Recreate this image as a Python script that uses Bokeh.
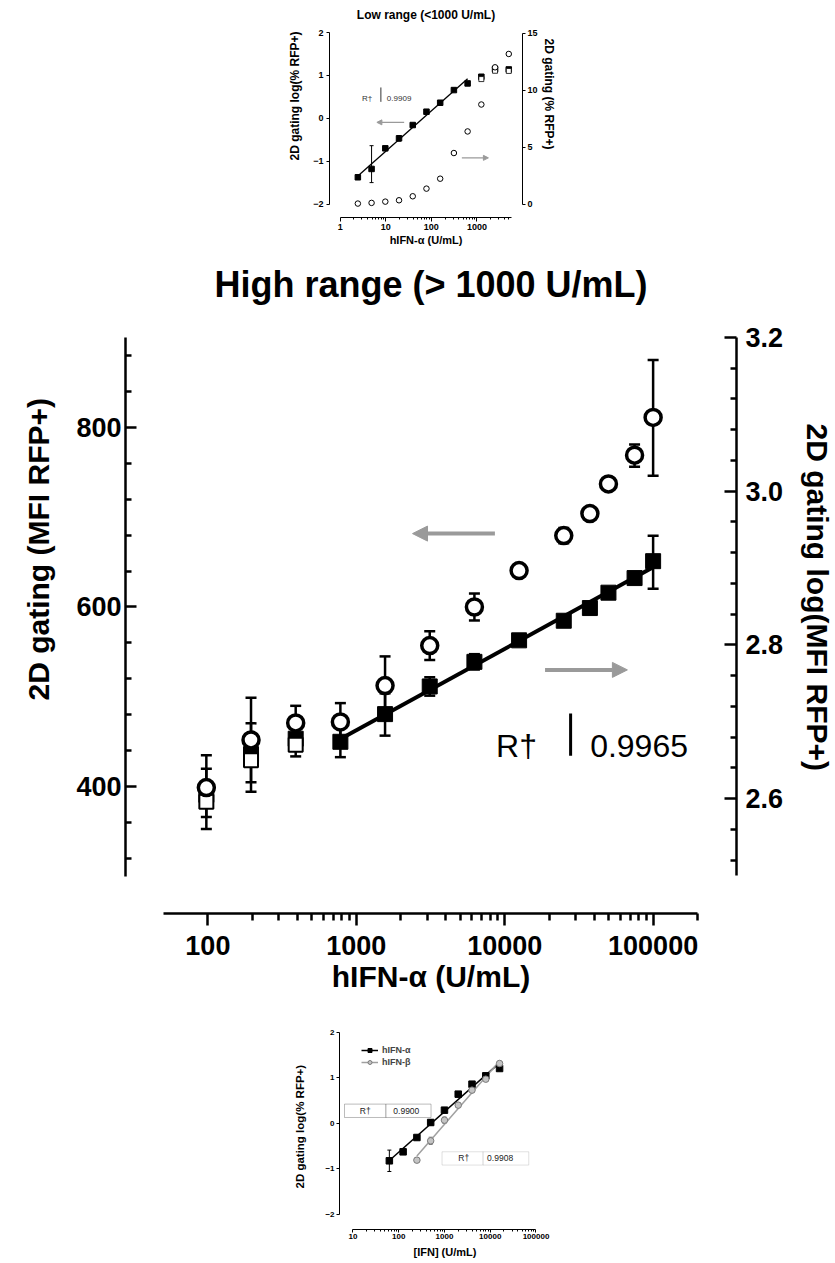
import numpy as np
from bokeh.plotting import figure
from bokeh.models import (Range1d, LinearAxis, FixedTicker, Whisker, ColumnDataSource,
                          Arrow, NormalHead, Label, BoxAnnotation, Legend, LegendItem,
                          TeeHead, BasicTickFormatter, PrintfTickFormatter, Title)
from bokeh.embed import file_html
from bokeh.resources import INLINE

FONT = "Liberation Sans"
GREY = "#9a9a9a"

# ---------------- data: low range panel (top) ----------------
low_conc = [2.44, 4.88, 9.77, 19.53, 39.06, 78.13, 156.25, 312.5, 625, 1250, 2500, 5000]
low_logpct = [-1.372, -1.178, -0.698, -0.465, -0.155, 0.155, 0.364, 0.659, 0.814, 0.969, 1.147, 1.140]
low_logpct_lo = [-1.41, -1.496, -0.73, -0.53, -0.18, 0.13, 0.34, 0.64, 0.79, 0.95, 1.13, 1.12]
low_logpct_hi = [-1.34, -0.636, -0.67, -0.40, -0.13, 0.18, 0.39, 0.68, 0.84, 0.99, 1.17, 1.16]
low_open_conc = [1250, 2500, 5000]
low_open_logpct = [0.915, 1.109, 1.105]
low_pct = [0.06, 0.12, 0.23, 0.35, 0.70, 1.37, 2.24, 4.49, 6.38, 8.74, 12.00, 13.17]
low_fit_n = 9
low_r2 = "0.9909"

# ---------------- data: high range panel (main) ----------------
hi_conc = [97.66, 195.3, 390.6, 781.25, 1562.5, 3125, 6250, 12500, 25000, 37500, 50000, 75000, 100000]
hi_mfi = [399, 452, 471, 472, 512.5, 557, 600, 640.5, 679.5, 704, 737, 769, 811]
hi_mfi_lo = [353, 405, 452, 451, 480, 541, 585, 635, 671, 699, 733, 756, 746]
hi_mfi_hi = [435, 499, 490, 493, 545, 573, 615, 646, 688, 709, 741, 781, 875]
hi_logmfi = [2.605, 2.658, 2.678, 2.674, 2.710, 2.746, 2.778, 2.806, 2.8315, 2.848, 2.868, 2.887, 2.909]
hi_logmfi_lo = [2.576, 2.609, 2.655, 2.654, 2.682, 2.734, 2.768, 2.802, 2.826, 2.845, 2.866, 2.880, 2.873]
hi_logmfi_hi = [2.639, 2.698, 2.698, 2.694, 2.737, 2.758, 2.788, 2.810, 2.837, 2.851, 2.870, 2.894, 2.942]
hi_open_conc = [97.66, 195.3, 390.6]
hi_open_logmfi = [2.596, 2.650, 2.670]
hi_fit_start = 3
hi_r2 = "0.9965"

# ---------------- data: IFN alpha / beta panel (bottom) ----------------
ifn_a_conc = [62.5, 125, 250, 500, 1000, 2000, 4000, 8000, 16000]
ifn_a = [-0.82, -0.623, -0.308, 0.022, 0.293, 0.645, 0.864, 1.048, 1.209]
ifn_a_err = [0.235, 0.04, 0.03, 0.06, 0.03, 0.03, 0.03, 0.03, 0.03]
ifn_b_conc = [250, 500, 1000, 2000, 4000, 8000, 16000]
ifn_b = [-0.806, -0.381, 0.073, 0.403, 0.733, 0.974, 1.319]
ifn_b_err = [0.05, 0.08, 0.07, 0.05, 0.05, 0.05, 0.03]
ifn_a_r2 = "0.9900"
ifn_b_r2 = "0.9908"

# tick definitions
low_x_major = [1, 10, 100, 1000]
low_x_minor = [2, 3, 4, 5, 6, 7, 8, 9, 20, 30, 40, 50, 60, 70, 80, 90,
               200, 300, 400, 500, 600, 700, 800, 900, 2000, 3000, 4000, 5000]
hi_x_major = [100, 1000, 10000, 100000]
hi_x_minor = [200, 300, 400, 500, 600, 700, 800, 900, 2000, 3000, 4000, 5000, 6000, 7000, 8000, 9000,
              20000, 30000, 40000, 50000, 60000, 70000, 80000, 90000, 200000]
hi_left_major = [400, 600, 800]
hi_left_minor = [320, 360, 440, 480, 520, 560, 640, 680, 720, 760, 840, 880]
hi_right_major = [2.6, 2.8, 3.0, 3.2]
hi_right_minor = [2.52, 2.56, 2.64, 2.68, 2.72, 2.76, 2.84, 2.88, 2.92, 2.96, 3.04, 3.08, 3.12, 3.16]
ifn_x_major = [10, 100, 1000, 10000, 100000]
ifn_x_minor = [20, 30, 40, 50, 60, 70, 80, 90, 200, 300, 400, 500, 600, 700, 800, 900,
               2000, 3000, 4000, 5000, 6000, 7000, 8000, 9000, 20000, 30000, 40000, 50000,
               60000, 70000, 80000, 90000]


def base_fig(height, x_range, y_range, bl, br, bt, bb):
    p = figure(width=835, height=height, x_axis_type="log", x_range=x_range, y_range=y_range,
               output_backend="svg", toolbar_location=None,
               min_border_left=bl, min_border_right=br, min_border_top=bt, min_border_bottom=bb)
    p.outline_line_color = None
    p.grid.visible = False
    p.background_fill_color = "white"
    p.border_fill_color = "white"
    p.title.text = ""
    return p


def style(ax, lw, lab, tit, tin, tout, mi, mo, lst, tst):
    ax.axis_line_color = "black"
    ax.major_tick_line_color = "black"
    ax.minor_tick_line_color = "black"
    ax.axis_line_width = lw
    ax.major_tick_line_width = lw
    ax.minor_tick_line_width = lw
    ax.major_tick_in = tin
    ax.major_tick_out = tout
    ax.minor_tick_in = mi
    ax.minor_tick_out = mo
    ax.major_label_text_font = FONT
    ax.major_label_text_font_size = lab
    ax.major_label_text_font_style = "bold"
    ax.major_label_text_color = "black"
    ax.axis_label_text_font = FONT
    ax.axis_label_text_font_size = tit
    ax.axis_label_text_font_style = "bold"
    ax.axis_label_text_color = "black"
    ax.major_label_standoff = lst
    ax.axis_label_standoff = tst


def side_title(p, side, text, size, offset, standoff, align="left"):
    p.add_layout(Title(text=text, align=align, offset=offset, standoff=standoff,
                       text_font=FONT, text_font_size=size, text_font_style="bold",
                       text_color="black"), side)


def spacer(p, side, standoff):
    p.add_layout(Title(text=" ", text_font_size="1px", standoff=standoff), side)


def whisk(p, x, lo, hi, width, head, color="black", yr="default"):
    src = ColumnDataSource(dict(base=x, lower=lo, upper=hi))
    w = Whisker(source=src, base="base", lower="lower", upper="upper", dimension="height",
                line_color=color, line_width=width,
                upper_head=TeeHead(size=head, line_color=color, line_width=width),
                lower_head=TeeHead(size=head, line_color=color, line_width=width),
                y_range_name=yr)
    p.add_layout(w)


def fit_line(xs, ys):
    k, b = np.polyfit(np.log10(xs), ys, 1)
    fx = [min(xs), max(xs)]
    return fx, [k * np.log10(v) + b for v in fx]


# ======================= top panel =======================
p1 = base_fig(250, Range1d(0.5825, 10000), Range1d(-2.309, 2.0), 329, 313, 32, 33)
p1.extra_y_ranges = {"right": Range1d(-1.16, 15.05)}
spacer(p1, "above", 8)
side_title(p1, "above", "Low range (<1000 U/mL)", "12px", 0, 0, align="center")

ax = p1.xaxis[0]
ax.ticker = FixedTicker(ticks=low_x_major, minor_ticks=low_x_minor)
ax.formatter = BasicTickFormatter(use_scientific=False)
ax.bounds = (1, 5800)
ax.axis_label = "hIFN-α (U/mL)"
style(ax, 1, "9px", "11px", 0, 4, 0, 2, 2, 1)

ay = p1.yaxis[0]
ay.ticker = FixedTicker(ticks=[-2, -1, 0, 1, 2])
ay.bounds = (-2, 2)
style(ay, 1, "9px", "11px", 0, 3, 0, 0, 3, 8)
ay.minor_tick_line_color = None

ar = LinearAxis(y_range_name="right", ticker=FixedTicker(ticks=[0, 5, 10, 15]), bounds=(0, 15))
style(ar, 1, "9px", "11px", 0, 3, 0, 0, 2, 3)
ar.minor_tick_line_color = None
p1.add_layout(ar, "right")

side_title(p1, "left", "2D gating log(% RFP+)", "12px", 57, 17)
side_title(p1, "right", "2D gating (% RFP+)", "12px", 6, 2)

whisk(p1, low_conc, low_logpct_lo, low_logpct_hi, 1, 4)
fx, fy = fit_line(low_conc[:low_fit_n], low_logpct[:low_fit_n])
p1.line(fx, fy, line_color="black", line_width=1.3)
p1.scatter(x=low_conc, y=low_logpct, marker="square", size=5.5, fill_color="black", line_color="black")
p1.scatter(x=low_open_conc, y=low_open_logpct, marker="square", size=5, fill_color="white",
           line_color="black", line_width=0.8)
p1.scatter(x=low_conc, y=low_pct, marker="circle", size=5.5, fill_color="white", line_color="black",
           line_width=1, y_range_name="right")

p1.add_layout(Label(x=2.99, y=0.464, text="R†", text_font=FONT, text_font_size="8px",
                    text_color="#333333", text_baseline="alphabetic"))
p1.add_layout(Label(x=10.57, y=0.464, text=low_r2, text_font=FONT, text_font_size="8px",
                    text_color="#333333", text_baseline="alphabetic"))
p1.add_layout(Arrow(end=None, start=None, x_start=7.81, y_start=0.385, x_end=7.81, y_end=0.72,
                    line_color="#333333", line_width=1))
p1.add_layout(Arrow(end=NormalHead(size=5, fill_color=GREY, line_color=GREY),
                    x_start=25.3, y_start=-0.093, x_end=6.38, y_end=-0.093,
                    line_color=GREY, line_width=1.2))
p1.add_layout(Arrow(end=NormalHead(size=5, fill_color=GREY, line_color=GREY),
                    x_start=467, y_start=-0.92, x_end=1786, y_end=-0.92,
                    line_color=GREY, line_width=1.2))

# ======================= main panel =======================
p2 = base_fig(770, Range1d(27.86, 364600), Range1d(258.8, 900), 125, 94, 87, 107)
p2.extra_y_ranges = {"right": Range1d(2.4506, 3.2)}
spacer(p2, "above", 30)
side_title(p2, "above", "High range (> 1000 U/mL)", "36px", 0, 0, align="center")

bx = p2.xaxis[0]
bx.ticker = FixedTicker(ticks=hi_x_major, minor_ticks=hi_x_minor)
bx.formatter = BasicTickFormatter(use_scientific=False)
bx.bounds = (50, 200000)
bx.axis_label = "hIFN-α (U/mL)"
style(bx, 2.5, "27px", "30px", 0, 12, 0, 7, 10, 2)

by = p2.yaxis[0]
by.ticker = FixedTicker(ticks=hi_left_major, minor_ticks=hi_left_minor)
by.bounds = (300, 900)
style(by, 2.5, "27px", "30px", 11, 0, 6, 0, 4, 18)

br = LinearAxis(y_range_name="right", ticker=FixedTicker(ticks=hi_right_major, minor_ticks=hi_right_minor),
                bounds=(2.5, 3.2), formatter=PrintfTickFormatter(format="%.1f"))
style(br, 2.5, "27px", "1px", 12, 0, 6, 0, 9, 10)
br.axis_label = " "
p2.add_layout(br, "right")

side_title(p2, "left", "2D gating (MFI RFP+)", "30px", 213, 38)
side_title(p2, "right", "2D gating log(MFI RFP+)", "30px", 86, 0)

whisk(p2, hi_conc, hi_mfi_lo, hi_mfi_hi, 2.5, 11)
whisk(p2, hi_conc, hi_logmfi_lo, hi_logmfi_hi, 2.5, 11, yr="right")
fx, fy = fit_line(hi_conc[hi_fit_start:], hi_logmfi[hi_fit_start:])
p2.line(fx, fy, line_color="black", line_width=4, y_range_name="right")
p2.scatter(x=hi_conc, y=hi_logmfi, marker="square", size=15, fill_color="black", line_color="black",
           y_range_name="right")
p2.scatter(x=hi_open_conc, y=hi_open_logmfi, marker="square", size=14, fill_color="white",
           line_color="black", line_width=2, y_range_name="right")
p2.scatter(x=hi_conc, y=hi_mfi, marker="circle", size=16, fill_color="white", line_color="black",
           line_width=3.5)

p2.add_layout(Arrow(end=NormalHead(size=15, fill_color=GREY, line_color=GREY),
                    x_start=8590, y_start=681.7, x_end=2393, y_end=681.7,
                    line_color=GREY, line_width=4))
p2.add_layout(Arrow(end=NormalHead(size=15, fill_color=GREY, line_color=GREY),
                    x_start=18700, y_start=530, x_end=67100, y_end=530,
                    line_color=GREY, line_width=4))
p2.add_layout(Label(x=8750, y=445.7, text="R†", text_font=FONT, text_font_size="32px",
                    text_color="black", text_baseline="alphabetic"))
p2.add_layout(Label(x=37640, y=445.7, text=hi_r2, text_font=FONT, text_font_size="32px",
                    text_color="black", text_baseline="alphabetic"))
p2.add_layout(Arrow(end=None, start=None, x_start=27800, y_start=434.5, x_end=27800, y_end=481.3,
                    line_color="black", line_width=3))

# ======================= bottom panel =======================
p3 = base_fig(243, Range1d(5.09, 107900), Range1d(-2.33, 2.0), 339, 298, 12, 34)
cx = p3.xaxis[0]
cx.ticker = FixedTicker(ticks=ifn_x_major, minor_ticks=ifn_x_minor)
cx.formatter = BasicTickFormatter(use_scientific=False)
cx.bounds = (10, 100000)
style(cx, 1, "8px", "11px", 0, 3, 0, 2, 1, 0)

cy = p3.yaxis[0]
cy.ticker = FixedTicker(ticks=[-2, -1, 0, 1, 2])
cy.bounds = (-2, 2)
style(cy, 1, "8px", "11px", 0, 3, 0, 0, 2, 14)
cy.minor_tick_line_color = None

side_title(p3, "left", "2D gating log(% RFP+)", "11.5px", 41, 34)
side_title(p3, "below", "[IFN] (U/mL)", "11px", 74, 5)

a_lo = [m - e for m, e in zip(ifn_a, ifn_a_err)]
a_hi = [m + e for m, e in zip(ifn_a, ifn_a_err)]
b_lo = [m - e for m, e in zip(ifn_b, ifn_b_err)]
b_hi = [m + e for m, e in zip(ifn_b, ifn_b_err)]
whisk(p3, ifn_a_conc, a_lo, a_hi, 1, 4)
whisk(p3, ifn_b_conc, b_lo, b_hi, 1, 4, color="#7a7a7a")

fx, fy = fit_line(ifn_a_conc, ifn_a)
la = p3.line(fx, fy, line_color="black", line_width=1.5)
fx, fy = fit_line(ifn_b_conc, ifn_b)
lb = p3.line(fx, fy, line_color="#a0a0a0", line_width=1.5)
sa = p3.scatter(x=ifn_a_conc, y=ifn_a, marker="square", size=6.5, fill_color="black", line_color="black")
sb = p3.scatter(x=ifn_b_conc, y=ifn_b, marker="circle", size=6.5, fill_color="#c4c4c4",
                line_color="#7a7a7a", line_width=1)

leg = Legend(items=[LegendItem(label="hIFN-α", renderers=[la, sa]),
                    LegendItem(label="hIFN-β", renderers=[lb, sb])],
             location=(22, 161))
leg.border_line_color = None
leg.background_fill_alpha = 0
leg.label_text_font = FONT
leg.label_text_font_size = "9px"
leg.label_text_font_style = "bold"
leg.glyph_width = 17
leg.glyph_height = 10
leg.label_height = 12
leg.spacing = 0
leg.padding = 0
leg.margin = 0
leg.label_standoff = 4
p3.add_layout(leg)

p3.add_layout(BoxAnnotation(left=6.55, right=52.8, bottom=0.132, top=0.426, fill_color="white",
                            fill_alpha=1, line_color="#222222", line_width=1))
p3.add_layout(BoxAnnotation(left=52.8, right=509, bottom=0.132, top=0.426, fill_color="white",
                            fill_alpha=1, line_color="#222222", line_width=1))
p3.add_layout(BoxAnnotation(left=885, right=7000, bottom=-0.914, top=-0.622, fill_color="white",
                            fill_alpha=1, line_color="#999999", line_width=1))
p3.add_layout(BoxAnnotation(left=7000, right=69500, bottom=-0.914, top=-0.622, fill_color="white",
                            fill_alpha=1, line_color="#999999", line_width=1))
p3.add_layout(Label(x=18.6, y=0.279, text="R†", text_font=FONT, text_font_size="8.5px",
                    text_align="center", text_baseline="middle", text_color="#222222"))
p3.add_layout(Label(x=76.3, y=0.279, text=ifn_a_r2, text_font=FONT, text_font_size="8.5px",
                    text_baseline="middle", text_color="#222222"))
p3.add_layout(Label(x=2630, y=-0.768, text="R†", text_font=FONT, text_font_size="8.5px",
                    text_align="center", text_baseline="middle", text_color="#222222"))
p3.add_layout(Label(x=8550, y=-0.768, text=ifn_b_r2, text_font=FONT, text_font_size="8.5px",
                    text_baseline="middle", text_color="#222222"))

# three independent roots (stacked vertically) so that the frames are not aligned to each other
open("out.html", "w").write(file_html((p1, p2, p3), INLINE))
